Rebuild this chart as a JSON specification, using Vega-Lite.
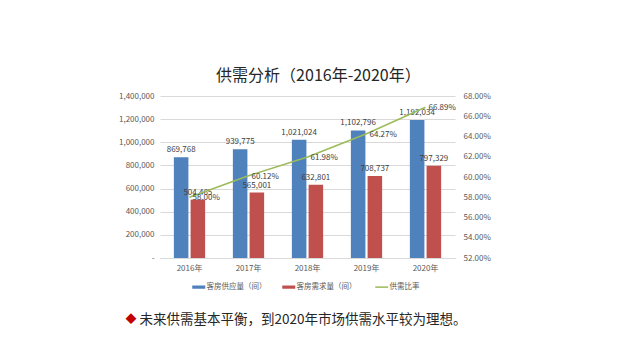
{
  "$schema": "https://vega.github.io/schema/vega-lite/v6.json",
  "background": "white",
  "padding": {"left": 118, "top": 68, "right": 5, "bottom": 5},
  "config": {"font": "Noto Sans CJK SC", "view": {"stroke": null}, "legend": {"layout": {"bottom": {"anchor": "middle"}}}},
  "title": {"text": "供需分析（2016年-2020年）", "fontSize": 16, "fontWeight": "normal", "color": "#262626", "anchor": "middle", "offset": 8, "dx": 14},
  "spacing": 19,
  "resolve": {"legend": {"color": "independent"}},
  "datasets": {
    "bars": [
      {"year": "2016年", "series": "客房供应量（间）", "value": 869768},
      {"year": "2016年", "series": "客房需求量（间）", "value": 504465},
      {"year": "2017年", "series": "客房供应量（间）", "value": 939775},
      {"year": "2017年", "series": "客房需求量（间）", "value": 565001},
      {"year": "2018年", "series": "客房供应量（间）", "value": 1021024},
      {"year": "2018年", "series": "客房需求量（间）", "value": 632801},
      {"year": "2019年", "series": "客房供应量（间）", "value": 1102796},
      {"year": "2019年", "series": "客房需求量（间）", "value": 708737},
      {"year": "2020年", "series": "客房供应量（间）", "value": 1192034},
      {"year": "2020年", "series": "客房需求量（间）", "value": 797329}
    ],
    "ratio": [
      {"year": "2016年", "series": "供需比率", "ratio": 0.58},
      {"year": "2017年", "series": "供需比率", "ratio": 0.6012},
      {"year": "2018年", "series": "供需比率", "ratio": 0.6198},
      {"year": "2019年", "series": "供需比率", "ratio": 0.6427},
      {"year": "2020年", "series": "供需比率", "ratio": 0.6689}
    ],
    "note": [{"t": "未来供需基本平衡，到2020年市场供需水平较为理想。"}]
  },
  "vconcat": [
    {
      "width": 295,
      "height": 162,
      "encoding": {
        "x": {"field": "year", "type": "nominal", "scale": {"paddingInner": 0.47, "paddingOuter": 0.235},
          "axis": {"title": null, "labelFontSize": 8, "labelColor": "#595959", "domainColor": "#d9d9d9", "ticks": false, "labelPadding": 6, "labelAngle": 0}}
      },
      "layer": [
        {
          "data": {"name": "bars"},
          "encoding": {
            "xOffset": {"field": "series", "type": "nominal", "scale": {"paddingInner": 0.13}, "sort": ["客房供应量（间）", "客房需求量（间）"]},
            "y": {"field": "value", "type": "quantitative", "scale": {"domain": [0, 1400000]},
              "axis": {"title": null, "values": [0, 200000, 400000, 600000, 800000, 1000000, 1200000, 1400000],
                "labelExpr": "datum.value === 0 ? '-' : format(datum.value, ',')",
                "labelFontSize": 8, "labelColor": "#595959", "gridColor": "#d9d9d9", "domain": false, "ticks": false, "labelPadding": 6}}
          },
          "layer": [
            {
              "mark": {"type": "bar"},
              "encoding": {
                "color": {"field": "series", "type": "nominal",
                  "scale": {"domain": ["客房供应量（间）", "客房需求量（间）", "供需比率"], "range": ["#4f81bd", "#c0504d", "#9bbb59"]},
                  "legend": {"orient": "bottom", "direction": "horizontal", "title": null, "labelFontSize": 7.5, "labelColor": "#595959",
                    "symbolSize": 169, "columnPadding": 15, "offset": 11, "labelOffset": 4,
                    "encode": {"symbols": {"update": {
                      "shape": {"signal": "datum.value === '供需比率' ? 'M-1,0H1' : 'M-1,-0.25H1V0.25H-1Z'"},
                      "fill": {"scale": "color", "field": "value"},
                      "stroke": {"scale": "color", "field": "value"},
                      "strokeWidth": {"signal": "datum.value === '供需比率' ? 1.5 : 0"},
                      "opacity": {"value": 1}
                    }}}}
                }
              }
            },
            {
              "mark": {"type": "text", "baseline": "bottom", "dy": -3, "fontSize": 8, "color": "#404040"},
              "encoding": {"text": {"field": "value", "type": "quantitative", "format": ","}}
            }
          ]
        },
        {
          "data": {"name": "ratio"},
          "encoding": {
            "y": {"field": "ratio", "type": "quantitative", "scale": {"domain": [0.52, 0.68]},
              "axis": {"title": null, "orient": "right", "format": ".2%", "values": [0.52, 0.54, 0.56, 0.58, 0.6, 0.62, 0.64, 0.66, 0.68],
                "labelFontSize": 8, "labelColor": "#595959", "grid": false, "domain": false, "ticks": false, "labelPadding": 8}}
          },
          "layer": [
            {
              "mark": {"type": "line", "strokeWidth": 1.5},
              "encoding": {
                "color": {"field": "series", "type": "nominal",
                  "scale": {"domain": ["客房供应量（间）", "客房需求量（间）", "供需比率"], "range": ["#4f81bd", "#c0504d", "#9bbb59"]}}
              }
            },
            {
              "mark": {"type": "text", "align": "left", "baseline": "middle", "dx": 3, "dy": 1, "fontSize": 8, "color": "#404040"},
              "encoding": {"text": {"field": "ratio", "type": "quantitative", "format": ".2%"}}
            }
          ]
        }
      ],
      "resolve": {"scale": {"y": "independent"}}
    },
    {
      "width": 286,
      "height": 20,
      "data": {"name": "note"},
      "layer": [
        {"mark": {"type": "text", "fontSize": 13.5, "color": "#262626", "align": "center", "baseline": "middle"},
         "encoding": {"text": {"field": "t"}}},
        {"mark": {"type": "text", "fontSize": 11, "color": "#c00000", "align": "center", "baseline": "middle", "dx": -172, "text": "◆"},
         "encoding": {}}
      ]
    }
  ]
}
